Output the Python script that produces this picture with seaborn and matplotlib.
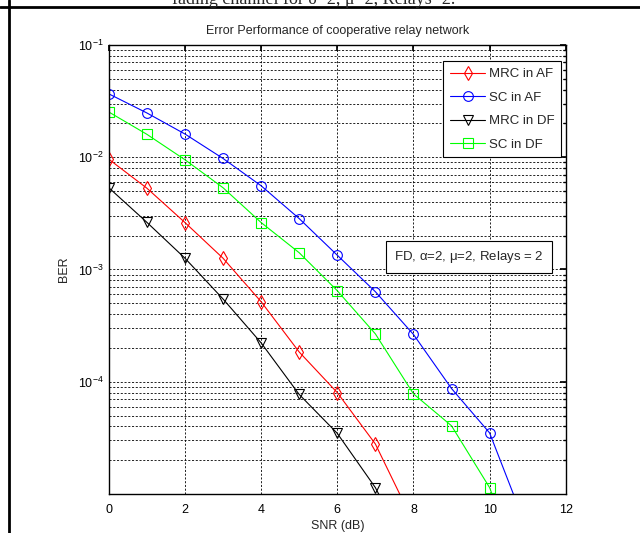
import numpy as np
import pandas as pd
import matplotlib
matplotlib.use("Agg")
import matplotlib.pyplot as plt
import seaborn as sns
from matplotlib.ticker import LogLocator, FixedLocator, NullFormatter
from matplotlib.lines import Line2D

sns.set_theme(style="white")
plt.rcParams['font.family'] = ['Liberation Sans', 'DejaVu Sans']
plt.rcParams['mathtext.default'] = 'regular'

# ---- data ----
snr_mrc_af = [0, 1, 2, 3, 4, 5, 6, 7, 8]
ber_mrc_af = [9.6e-3, 5.3e-3, 2.62e-3, 1.26e-3, 5.16e-4, 1.84e-4, 8.0e-5, 2.79e-5, 5.6e-6]

snr_sc_af = [0, 1, 2, 3, 4, 5, 6, 7, 8, 9, 10, 11]
ber_sc_af = [3.67e-2, 2.48e-2, 1.61e-2, 9.75e-3, 5.57e-3, 2.84e-3, 1.34e-3, 6.34e-4,
             2.64e-4, 8.7e-5, 3.5e-5, 4.7e-6]

snr_mrc_df = [0, 1, 2, 3, 4, 5, 6, 7, 8]
ber_mrc_df = [5.35e-3, 2.63e-3, 1.26e-3, 5.46e-4, 2.22e-4, 7.7e-5, 3.47e-5, 1.14e-5, 2.5e-6]

snr_sc_df = [0, 1, 2, 3, 4, 5, 6, 7, 8, 9, 10, 11]
ber_sc_df = [2.53e-2, 1.6e-2, 9.5e-3, 5.35e-3, 2.62e-3, 1.41e-3, 6.47e-4, 2.67e-4,
             7.8e-5, 4.05e-5, 1.14e-5, 1.5e-6]

series_names = ["MRC in AF", "SC in AF", "MRC in DF", "SC in DF"]
x_ticks = [0, 2, 4, 6, 8, 10, 12]

series = [
    (series_names[0], snr_mrc_af, ber_mrc_af, "#ff0000", "d", 7),
    (series_names[1], snr_sc_af, ber_sc_af, "#0000ff", "o", 7),
    (series_names[2], snr_mrc_df, ber_mrc_df, "#000000", "v", 7),
    (series_names[3], snr_sc_df, ber_sc_df, "#00ff00", "s", 7),
]

fig = plt.figure(figsize=(6.4, 5.33), dpi=100)
ax = fig.add_axes([0.170, 0.0732, 0.714, 0.8424])

handles = []
for name, xs, ys, col, mk, ms in series:
    df = pd.DataFrame({"SNR": xs, "BER": ys})
    sns.lineplot(data=df, x="SNR", y="BER", ax=ax, color=col, linewidth=0.8,
                 marker=mk, markersize=ms, markerfacecolor="none",
                 markeredgecolor=col, markeredgewidth=0.8, legend=False)
    handles.append(Line2D([], [], color=col, lw=0.8, marker=mk, markersize=ms,
                          markerfacecolor="none", markeredgecolor=col,
                          markeredgewidth=0.8, label=name))

ax.set_yscale("log")
ax.set_xlim(0, 12)
ax.set_ylim(1e-5, 1e-1)
ax.xaxis.set_major_locator(FixedLocator(x_ticks))
ax.set_xticklabels([str(t) for t in x_ticks])
ax.yaxis.set_major_locator(LogLocator(base=10, numticks=10))
ax.yaxis.set_minor_locator(LogLocator(base=10, subs=np.arange(2, 10), numticks=20))
ax.yaxis.set_minor_formatter(NullFormatter())
ax.set_yticks([1e-4, 1e-3, 1e-2, 1e-1])
ax.set_yticklabels([r"$10^{-4}$", r"$10^{-3}$", r"$10^{-2}$", r"$10^{-1}$"])

grid_kw = dict(color="black", linestyle=(0, (2.5, 2)), linewidth=0.6)
ax.grid(True, which="major", axis="both", **grid_kw)
ax.grid(True, which="minor", axis="y", **grid_kw)

ax.tick_params(axis="both", which="both", direction="in", top=True, right=True,
               labelsize=9, colors="black", length=4)
ax.tick_params(axis="both", which="minor", length=2)
ax.tick_params(axis="x", pad=7)
for s in ax.spines.values():
    s.set_color("black")
    s.set_linewidth(1.0)

ax.set_xlabel("SNR (dB)", fontsize=9, labelpad=3)
ax.set_ylabel("BER", fontsize=9, labelpad=6)
ax.set_title("Error Performance of cooperative relay network", fontsize=9, pad=8)

leg = ax.legend(handles=handles, loc="upper right", bbox_to_anchor=(1.004, 0.978),
                fontsize=9.5, frameon=True, fancybox=False, edgecolor="black",
                framealpha=1, handlelength=2.7, borderpad=0.5, labelspacing=0.85,
                handletextpad=0.25)
leg.get_frame().set_linewidth(0.8)

ax.text(0.952, 0.528, r"FD, $\alpha$=2, $\mu$=2, Relays = 2", transform=ax.transAxes,
        ha="right", va="center", fontsize=9.5,
        bbox=dict(boxstyle="square,pad=0.6", facecolor="white", edgecolor="black",
                  linewidth=0.8))

# page elements around the figure (table border and cut-off caption)
fig.add_artist(Line2D([0, 1], [1 - 7 / 533, 1 - 7 / 533], color="black", lw=2.0,
                      transform=fig.transFigure))
fig.add_artist(Line2D([9 / 640, 9 / 640], [0, 1], color="black", lw=2.0,
                      transform=fig.transFigure))
fig.text(0.49, 1 - 4 / 533, "fading channel for δ=2, μ=2, Relays=2.",
         ha="center", va="baseline", fontsize=13,
         family=["Liberation Serif", "DejaVu Serif"])

fig.savefig("out.png", dpi=100)
